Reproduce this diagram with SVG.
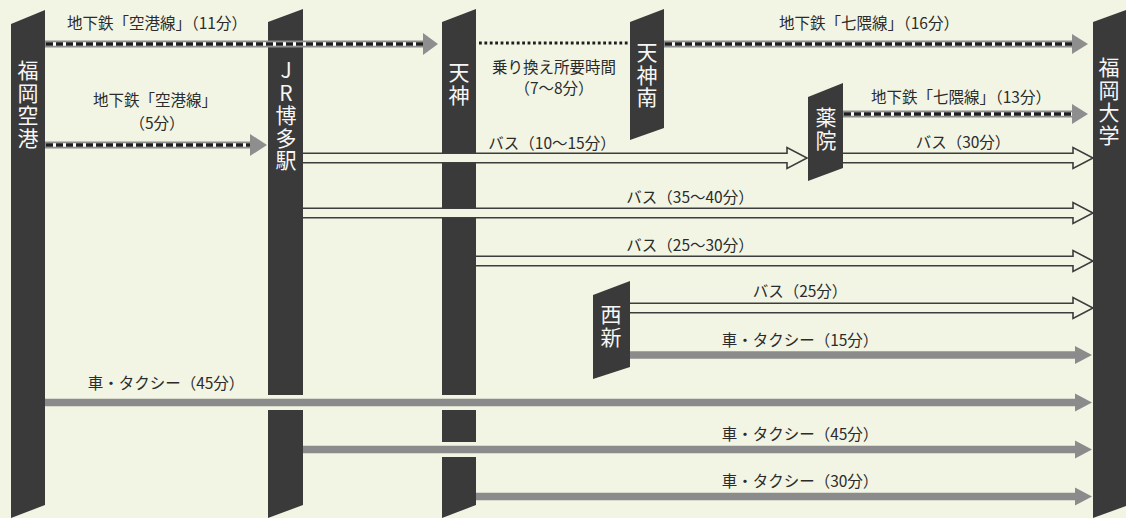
<svg xmlns="http://www.w3.org/2000/svg" width="1126" height="518" viewBox="0 0 1126 518">
<defs>
<style>
.bg{fill:#f2f5e4}
.pillar{fill:#3a3a3a}
.pt{font-family:"Noto Sans CJK JP","Noto Sans",sans-serif;font-size:21px;fill:#f6f6f6;writing-mode:vertical-rl;text-orientation:upright;letter-spacing:1.5px}
.lbl{font-family:"Noto Sans CJK JP","Noto Sans",sans-serif;font-size:15.5px;fill:#2b2b2b;text-anchor:middle}
.subo{stroke:#8e8e8e;stroke-width:7;fill:none}
.subi{stroke:#ffffff;stroke-width:3.4;fill:none}
.subd{stroke:#1e1e1e;stroke-width:3.4;stroke-dasharray:7 3;fill:none}
.subh{fill:#8e8e8e}
.dot{stroke:#1e1e1e;stroke-width:2.8;stroke-dasharray:2.8 2.6;fill:none}
.bus{fill:#f2f5e4;stroke:#3d3d3d;stroke-width:1.6;stroke-linejoin:miter}
.gap{stroke:#f2f5e4;stroke-width:15;fill:none}
.taxi{stroke:#8b8b8b;stroke-width:7.5;fill:none}
.taxih{fill:#8b8b8b}
</style>
</defs>
<rect class="bg" x="0" y="0" width="1126" height="518"/>

<g id="node-fukuoka-airport">
<polygon class="pillar" points="11,24 45,10 45,505 11,518"/>
<text class="pt" x="28" y="60">福岡空港</text>
</g>
<g id="node-jr-hakata">
<polygon class="pillar" points="268,22 303,9 303,505 268,518"/>
<text class="pt" x="286" y="60">JR博多駅</text>
</g>
<g id="node-tenjin">
<polygon class="pillar" points="442,22 476,9 476,505 442,518"/>
<text class="pt" x="459" y="62">天神</text>
</g>
<g id="node-tenjin-minami">
<polygon class="pillar" points="630,22 664,9 664,128 630,140"/>
<text class="pt" x="647" y="42">天神南</text>
</g>
<g id="node-yakuin">
<polygon class="pillar" points="808,97 843,83 843,168 808,181"/>
<text class="pt" x="826" y="107">薬院</text>
</g>
<g id="node-nishijin">
<polygon class="pillar" points="593,295 630,281 630,367 593,379"/>
<text class="pt" x="611" y="304">西新</text>
</g>
<g id="node-fukuoka-univ">
<polygon class="pillar" points="1093,22 1126,10 1126,506 1093,518"/>
<text class="pt" x="1109" y="57">福岡大学</text>
</g>

<g id="connectors">
<path class="subo" d="M45,44 H424"/><path class="subi" d="M46,44 H424"/><path class="subd" d="M46,44 H424"/>
<polygon class="subh" points="423,33 438,44 423,55"/>
<path class="subo" d="M45,145 H251"/><path class="subi" d="M46,145 H251"/><path class="subd" d="M46,145 H251"/>
<polygon class="subh" points="250,134 267,145 250,156"/>
<path class="dot" d="M479,43 H628"/>
<path class="subo" d="M664,44 H1073"/><path class="subi" d="M665,44 H1073"/><path class="subd" d="M665,44 H1073"/>
<polygon class="subh" points="1072,34 1088,44 1072,54"/>
<path class="subo" d="M843,114 H1073"/><path class="subi" d="M844,114 H1073"/><path class="subd" d="M844,114 H1073"/>
<polygon class="subh" points="1072,104 1088,114 1072,124"/>
<path class="bus" d="M303,153.3 H787 V147.5 L807,158 L787,168.5 V162.7 H303"/>
<path class="bus" d="M843,153.3 H1073 V147.5 L1093,158 L1073,168.5 V162.7 H843"/>
<path class="bus" d="M303,208.3 H1073 V202.5 L1093,213 L1073,223.5 V217.7 H303"/>
<path class="bus" d="M476,256.3 H1073 V250.5 L1093,261 L1073,271.5 V265.7 H476"/>
<path class="bus" d="M630,303.3 H1073 V297.5 L1093,308 L1073,318.5 V312.7 H630"/>
<path class="taxi" d="M630,355 H1076"/>
<polygon class="taxih" points="1075,346 1092,355 1075,364"/>
<path class="gap" d="M46,402.5 H1075"/>
<path class="taxi" d="M45,402.5 H1076"/>
<polygon class="taxih" points="1075,393.5 1092,402.5 1075,411.5"/>
<path class="gap" d="M304,449.5 H1075"/>
<path class="taxi" d="M303,449.5 H1076"/>
<polygon class="taxih" points="1075,440.5 1092,449.5 1075,458.5"/>
<path class="taxi" d="M476,496.5 H1076"/>
<polygon class="taxih" points="1075,487.5 1092,496.5 1075,505.5"/>
<text class="lbl" x="157" y="28.5">地下鉄「空港線」（11分）</text>
<text class="lbl" x="155" y="105.5">地下鉄「空港線」</text>
<text class="lbl" x="157" y="128.5">（5分）</text>
<text class="lbl" x="554" y="72.5">乗り換え所要時間</text>
<text class="lbl" x="554" y="93.5">（7〜8分）</text>
<text class="lbl" x="869" y="28.5">地下鉄「七隈線」（16分）</text>
<text class="lbl" x="961" y="102.5">地下鉄「七隈線」（13分）</text>
<text class="lbl" x="552" y="148.5">バス（10〜15分）</text>
<text class="lbl" x="963" y="147.5">バス（30分）</text>
<text class="lbl" x="690" y="202.5">バス（35〜40分）</text>
<text class="lbl" x="690" y="250.5">バス（25〜30分）</text>
<text class="lbl" x="800" y="296.5">バス（25分）</text>
<text class="lbl" x="800" y="345.5">車・タクシー（15分）</text>
<text class="lbl" x="166" y="388.5">車・タクシー（45分）</text>
<text class="lbl" x="800" y="439.5">車・タクシー（45分）</text>
<text class="lbl" x="800" y="486.5">車・タクシー（30分）</text>
</g>
</svg>
